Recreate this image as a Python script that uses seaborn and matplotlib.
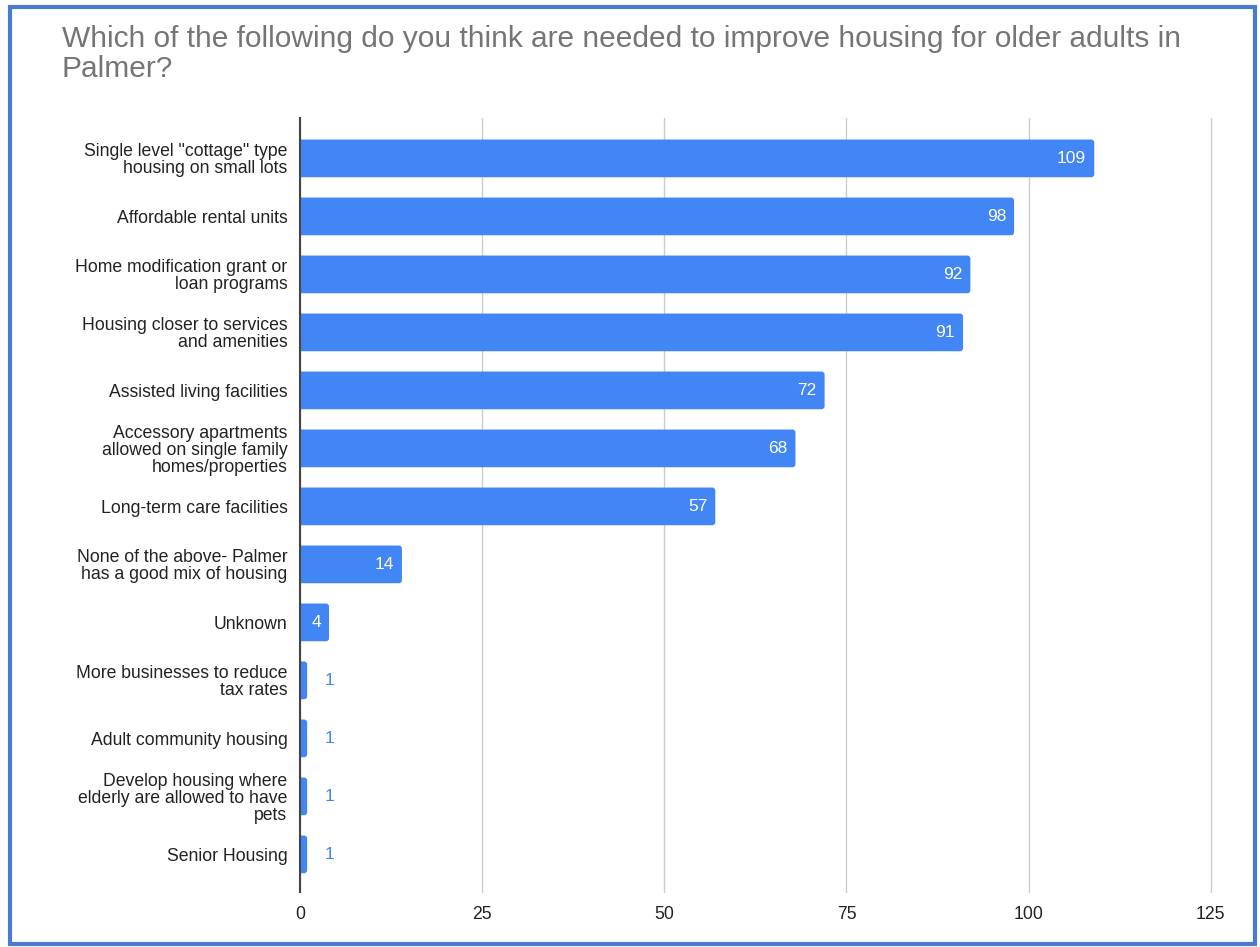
"""Horizontal bar chart: housing improvements wanted by older adults in Palmer."""

import matplotlib
matplotlib.use("Agg")
import matplotlib.pyplot as plt
from matplotlib.patches import Rectangle, FancyBboxPatch
import pandas as pd
import seaborn as sns

# ---------------------------------------------------------------------------
# Data
# ---------------------------------------------------------------------------
categories = [
    "Single level \"cottage\" type\nhousing on small lots",
    "Affordable rental units",
    "Home modification grant or\nloan programs",
    "Housing closer to services\nand amenities",
    "Assisted living facilities",
    "Accessory apartments\nallowed on single family\nhomes/properties",
    "Long-term care facilities",
    "None of the above- Palmer\nhas a good mix of housing",
    "Unknown",
    "More businesses to reduce\ntax rates",
    "Adult community housing",
    "Develop housing where\nelderly are allowed to have\npets",
    "Senior Housing",
]
counts = [109, 98, 92, 91, 72, 68, 57, 14, 4, 1, 1, 1, 1]
x_ticks = [0, 25, 50, 75, 100, 125]

TITLE = "Which of the following do you think are needed to improve housing for older adults in\nPalmer?"
BAR_COLOR = "#4285F4"

# ---------------------------------------------------------------------------
# Aesthetics
# ---------------------------------------------------------------------------
sns.set_style("white")
plt.rcParams["font.family"] = ["Liberation Sans", "DejaVu Sans"]

df = pd.DataFrame({"category": categories, "count": counts})

fig = plt.figure(figsize=(12.6, 9.47), dpi=100)
ax = fig.add_axes([0.238, 0.058, 0.723, 0.817])

sns.barplot(data=df, y="category", x="count", orient="h", color=BAR_COLOR,
            width=0.65, saturation=1, ax=ax)

ax.set_xlim(0, 125)
ax.set_ylim(len(categories) - 1 + 0.65, -0.69)

# swap the square bars for ones with slightly rounded ends (Google Sheets look)
for p in list(ax.patches):
    x0, y0, w, h = p.get_x(), p.get_y(), p.get_width(), p.get_height()
    p.remove()
    ax.add_patch(FancyBboxPatch((x0 - 0.6, y0), w + 0.6, h,
                                boxstyle="round,pad=0,rounding_size=0.42",
                                mutation_aspect=0.125, facecolor=BAR_COLOR,
                                edgecolor="none", zorder=2))

ax.set_xticks(x_ticks)
ax.set_xticklabels([str(t) for t in x_ticks])
ax.set_xlabel("")
ax.set_ylabel("")
ax.grid(axis="x", color="#cccccc", linewidth=1)
for gl in ax.get_xgridlines():
    gl.set_clip_on(False)
ax.set_axisbelow(True)
for side in ["top", "right", "bottom"]:
    ax.spines[side].set_visible(False)
ax.spines["left"].set_color("#444444")
ax.spines["left"].set_linewidth(1.5)
ax.spines["left"].set_zorder(5)
ax.tick_params(axis="both", length=0, labelsize=12.7, colors="#222222")
ax.tick_params(axis="y", pad=9)
ax.tick_params(axis="x", pad=10)
for lbl in ax.get_yticklabels():
    lbl.set_linespacing(1.0)

# value labels
for i, v in enumerate(counts):
    if v >= 4:
        ax.text(v - 1.1, i, str(v), ha="right", va="center",
                color="white", fontsize=12.5, zorder=3)
    else:
        ax.text(v + 3, i, str(v), ha="center", va="center",
                color=BAR_COLOR, fontsize=12.5, zorder=3)

fig.text(0.049, 1 - 25 / 947, TITLE, ha="left", va="top", fontsize=21.5,
         color="#757575", linespacing=1.08)

# frame around the whole chart
fig.patches.append(Rectangle((0.008, 0.003), 0.988, 0.99, transform=fig.transFigure,
                             fill=False, edgecolor="#4a7bd0", linewidth=3))

fig.savefig("out.png", dpi=100)
